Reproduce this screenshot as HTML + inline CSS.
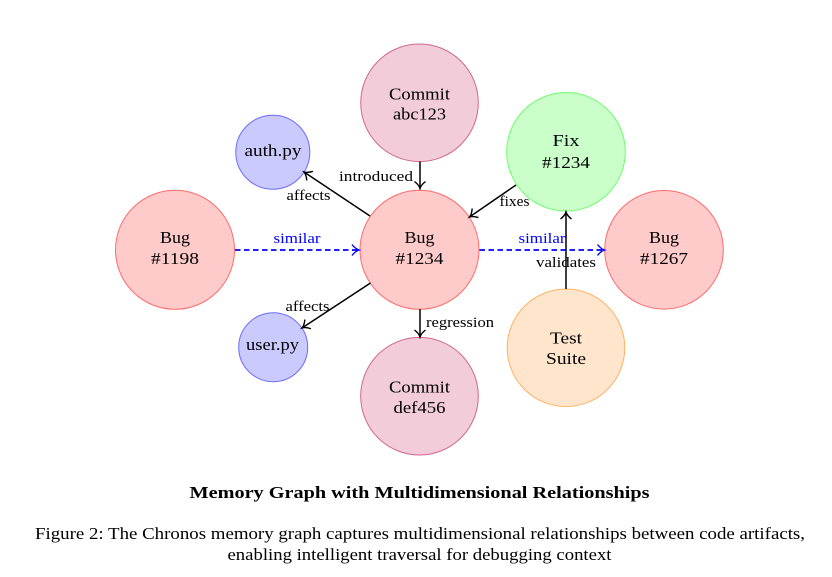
<!DOCTYPE html>
<html><head><meta charset="utf-8"><style>
html,body{margin:0;padding:0;background:#fff;width:832px;height:577px;overflow:hidden}
svg{display:block}
text{font-family:"Liberation Serif",serif;fill:#000;text-anchor:middle}
.n{font-size:16.500px}
.l{font-size:14.500px}
.b{fill:#00f}
.c{font-size:16.500px}
</style></head><body>
<svg width="832" height="577" viewBox="0 0 832 577" xmlns="http://www.w3.org/2000/svg">
<defs>
<marker id="a" markerUnits="userSpaceOnUse" markerWidth="14" markerHeight="16" refX="9" refY="8" orient="auto"><path d="M2 2.500 Q5.500 7 9 8 Q5.500 9 2 13.500" fill="none" stroke="#000" stroke-width="1.400"/></marker>
<marker id="ab" markerUnits="userSpaceOnUse" markerWidth="14" markerHeight="16" refX="9" refY="8" orient="auto"><path d="M2 2.500 Q5.500 7 9 8 Q5.500 9 2 13.500" fill="none" stroke="#00f" stroke-width="1.400"/></marker>
</defs>
<g stroke-width="1">
<circle cx="419.500" cy="102.800" r="58.800" fill="#f2ccd9" stroke="#d0678f"/>
<circle cx="419.500" cy="396.200" r="58.800" fill="#f2ccd9" stroke="#d0678f"/>
<circle cx="419.500" cy="249.800" r="59.500" fill="#ffcaca" stroke="#ff6b6b"/>
<circle cx="175" cy="249.800" r="59.500" fill="#ffcaca" stroke="#ff6b6b"/>
<circle cx="664" cy="249.800" r="59.300" fill="#ffcaca" stroke="#ff6b6b"/>
<circle cx="566" cy="151.800" r="59.300" fill="#caffca" stroke="#6bff6b"/>
<circle cx="566" cy="347.800" r="58.800" fill="#ffe5cb" stroke="#ffb266"/>
<circle cx="272.800" cy="152.200" r="37" fill="#cacaff" stroke="#6b6bff"/>
<circle cx="273.200" cy="347.200" r="34.500" fill="#cacaff" stroke="#6b6bff"/>
</g>
<g fill="none" stroke="#000" stroke-width="1.500">
<path d="M420 161.500V188.500" marker-end="url(#a)"/>
<path d="M420 309V337" marker-end="url(#a)"/>
<path d="M370 216L304 172" marker-end="url(#a)"/>
<path d="M370.500 283L302 328" marker-end="url(#a)"/>
<path d="M516 185L469.500 217" marker-end="url(#a)"/>
</g>
<g fill="none" stroke="#00f" stroke-width="1.700" stroke-dasharray="5.500 3.500">
<path d="M235 250H359" marker-end="url(#ab)"/>
<path d="M479.500 250H604.500" marker-end="url(#ab)"/>
</g>
<path d="M566 289V212" fill="none" stroke="#000" stroke-width="1.500" marker-end="url(#a)"/>
<text class="n" x="419.500" y="99.500" textLength="61" lengthAdjust="spacingAndGlyphs">Commit</text>
<text class="n" x="419.500" y="119.500" textLength="53" lengthAdjust="spacingAndGlyphs">abc123</text>
<text class="n" x="419.500" y="243" textLength="30" lengthAdjust="spacingAndGlyphs">Bug</text>
<text class="n" x="419.500" y="264" textLength="48" lengthAdjust="spacingAndGlyphs">#1234</text>
<text class="n" x="419.500" y="392.500" textLength="61" lengthAdjust="spacingAndGlyphs">Commit</text>
<text class="n" x="419.500" y="413" textLength="52" lengthAdjust="spacingAndGlyphs">def456</text>
<text class="n" x="175" y="243" textLength="30" lengthAdjust="spacingAndGlyphs">Bug</text>
<text class="n" x="175" y="264" textLength="48" lengthAdjust="spacingAndGlyphs">#1198</text>
<text class="n" x="664" y="243" textLength="30" lengthAdjust="spacingAndGlyphs">Bug</text>
<text class="n" x="664" y="264" textLength="48" lengthAdjust="spacingAndGlyphs">#1267</text>
<text class="n" x="566" y="146" textLength="27" lengthAdjust="spacingAndGlyphs">Fix</text>
<text class="n" x="566" y="168" textLength="48" lengthAdjust="spacingAndGlyphs">#1234</text>
<text class="n" x="566" y="343.500" textLength="32" lengthAdjust="spacingAndGlyphs">Test</text>
<text class="n" x="566" y="364" textLength="40" lengthAdjust="spacingAndGlyphs">Suite</text>
<text class="n" x="273" y="156" textLength="57" lengthAdjust="spacingAndGlyphs">auth.py</text>
<text class="n" x="272.500" y="350" textLength="53" lengthAdjust="spacingAndGlyphs">user.py</text>
<text class="l" x="376" y="181" textLength="74" lengthAdjust="spacingAndGlyphs">introduced</text>
<text class="l" x="308.500" y="200" textLength="44" lengthAdjust="spacingAndGlyphs">affects</text>
<text class="l" x="307.500" y="311" textLength="44" lengthAdjust="spacingAndGlyphs">affects</text>
<text class="l" x="460" y="327" textLength="68" lengthAdjust="spacingAndGlyphs">regression</text>
<text class="l" x="514.500" y="206" textLength="30" lengthAdjust="spacingAndGlyphs">fixes</text>
<text class="l" x="566" y="267" textLength="60" lengthAdjust="spacingAndGlyphs">validates</text>
<text class="l b" x="297" y="243" textLength="47" lengthAdjust="spacingAndGlyphs">similar</text>
<text class="l b" x="542" y="243" textLength="47" lengthAdjust="spacingAndGlyphs">similar</text>
<text x="419.500" y="498" font-size="16.500" font-weight="bold" textLength="460" lengthAdjust="spacingAndGlyphs">Memory Graph with Multidimensional Relationships</text>
<text class="c" x="420" y="539" textLength="770" lengthAdjust="spacingAndGlyphs">Figure 2: The Chronos memory graph captures multidimensional relationships between code artifacts,</text>
<text class="c" x="419.500" y="560" textLength="384" lengthAdjust="spacingAndGlyphs">enabling intelligent traversal for debugging context</text>
</svg>
</body></html>
